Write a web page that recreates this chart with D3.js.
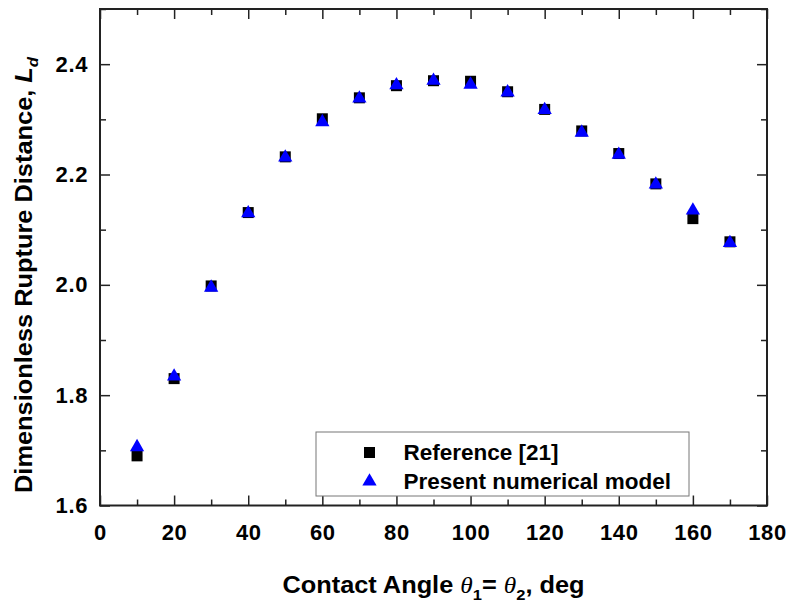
<!DOCTYPE html>
<html>
<head>
  <meta charset="utf-8">
  <title>Rupture distance vs contact angle</title>
  <script src="https://d3js.org/d3.v7.min.js"></script>
  <style>
    body { margin: 0; background: #fff; font-family: "Liberation Sans", Arial, sans-serif; }
    .tick text { font-family: "Liberation Sans", Arial, sans-serif; font-weight: bold; font-size: 22px; letter-spacing: 0.6px; fill: #000; }
    .domain { display: none; }
  </style>
</head>
<body>
<script>
// data
var angles = [10, 20, 30, 40, 50, 60, 70, 80, 90, 100, 110, 120, 130, 140, 150, 160, 170];
var reference21 = [1.690, 1.830, 1.998, 2.131, 2.232, 2.301, 2.339, 2.361, 2.370, 2.369, 2.350, 2.318, 2.279, 2.238, 2.183, 2.120, 2.078];
var presentModel = [1.706, 1.834, 1.995, 2.130, 2.231, 2.295, 2.338, 2.362, 2.370, 2.363, 2.349, 2.317, 2.276, 2.236, 2.182, 2.135, 2.076];
var xTicks = [0, 20, 40, 60, 80, 100, 120, 140, 160, 180];
var yTicks = [1.6, 1.8, 2.0, 2.2, 2.4];
var legendLabels = ["Reference [21]", "Present numerical model"];

var W = 792, H = 607;
var margin = {top: 9, right: 25, bottom: 101.5, left: 100};
var width = W - margin.left - margin.right;
var height = H - margin.top - margin.bottom;

var svg = d3.select("body").append("svg")
  .attr("width", W)
  .attr("height", H);

var g = svg.append("g")
  .attr("transform", "translate(" + margin.left + "," + margin.top + ")");

var x = d3.scaleLinear().domain([0, 180]).range([0, width]);
var y = d3.scaleLinear().domain([1.6, 2.5]).range([height, 0]);

var minorX = d3.range(10, 180, 20);
var minorY = [1.7, 1.9, 2.1, 2.3, 2.5];

// axes, ticks pointing inward
g.append("g")
  .attr("transform", "translate(0," + height + ")")
  .call(d3.axisBottom(x).tickValues(xTicks).tickSize(-10).tickPadding(18.5).tickFormat(d3.format("d")));
g.append("g")
  .attr("transform", "translate(0," + height + ")")
  .call(d3.axisBottom(x).tickValues(minorX).tickSize(-6).tickFormat(""));
g.append("g")
  .call(d3.axisTop(x).tickValues(xTicks).tickSize(-10).tickFormat(""));
g.append("g")
  .call(d3.axisTop(x).tickValues(minorX).tickSize(-6).tickFormat(""));

g.append("g")
  .call(d3.axisLeft(y).tickValues(yTicks).tickSize(-10).tickPadding(12).tickFormat(d3.format(".1f")));
g.append("g")
  .call(d3.axisLeft(y).tickValues(minorY).tickSize(-6).tickFormat(""));
g.append("g")
  .attr("transform", "translate(" + width + ",0)")
  .call(d3.axisRight(y).tickValues(yTicks).tickSize(-10).tickFormat(""));
g.append("g")
  .attr("transform", "translate(" + width + ",0)")
  .call(d3.axisRight(y).tickValues(minorY).tickSize(-6).tickFormat(""));

g.selectAll(".tick line").attr("stroke", "#222").attr("stroke-width", 1.5);

g.append("rect")
  .attr("width", width)
  .attr("height", height)
  .attr("fill", "none")
  .attr("stroke", "#222")
  .attr("stroke-width", 2);

// markers
var square = d3.symbol().type(d3.symbolSquare).size(121);
var triangle = d3.symbol().type(d3.symbolTriangle).size(88);

g.selectAll(".ref")
  .data(angles)
  .enter().append("path")
  .attr("class", "ref")
  .attr("d", square)
  .attr("fill", "#000")
  .attr("transform", function(d, i) { return "translate(" + x(d) + "," + y(reference21[i]) + ")"; });

g.selectAll(".model")
  .data(angles)
  .enter().append("path")
  .attr("class", "model")
  .attr("d", triangle)
  .attr("fill", "#0000ff")
  .attr("transform", function(d, i) { return "translate(" + x(d) + "," + y(presentModel[i]) + ")"; });

// legend
var legend = svg.append("g").attr("transform", "translate(316,432)");
legend.append("rect")
  .attr("width", 373)
  .attr("height", 64)
  .attr("fill", "#fff")
  .attr("stroke", "#777")
  .attr("stroke-width", 1);
var legendSymbols = [square, triangle];
var legendColors = ["#000", "#0000ff"];
legendLabels.forEach(function(label, i) {
  var cy = 20.5 + i * 29;
  legend.append("path")
    .attr("d", legendSymbols[i])
    .attr("fill", legendColors[i])
    .attr("transform", "translate(53.5," + cy + ")");
  legend.append("text")
    .attr("x", 87.5)
    .attr("y", cy + 7.5)
    .style("font-weight", "bold")
    .style("font-size", "22.5px")
    .text(label);
});

// axis titles
var xt = svg.append("text")
  .attr("x", 282.5)
  .attr("y", 593)
  .attr("textLength", 302)
  .attr("lengthAdjust", "spacingAndGlyphs")
  .style("font-weight", "bold")
  .style("font-size", "23px");
xt.append("tspan").text("Contact Angle ");
xt.append("tspan").style("font-family", "'Liberation Serif', serif").style("font-style", "italic").style("font-weight", "normal").text("\u03b8");
xt.append("tspan").attr("dy", 7).style("font-size", "15px").text("1");
xt.append("tspan").attr("dy", -7).text("= ");
xt.append("tspan").style("font-family", "'Liberation Serif', serif").style("font-style", "italic").style("font-weight", "normal").text("\u03b8");
xt.append("tspan").attr("dy", 7).style("font-size", "15px").text("2");
xt.append("tspan").attr("dy", -7).text(", deg");

var yt = svg.append("text")
  .attr("transform", "translate(32,493) rotate(-90)")
  .attr("textLength", 436)
  .attr("lengthAdjust", "spacingAndGlyphs")
  .style("font-weight", "bold")
  .style("font-size", "23px");
yt.append("tspan").text("Dimensionless Rupture Distance, ");
yt.append("tspan").style("font-style", "italic").text("L");
yt.append("tspan").attr("dy", 6).style("font-style", "italic").style("font-size", "15px").text("d");
</script>
</body>
</html>
